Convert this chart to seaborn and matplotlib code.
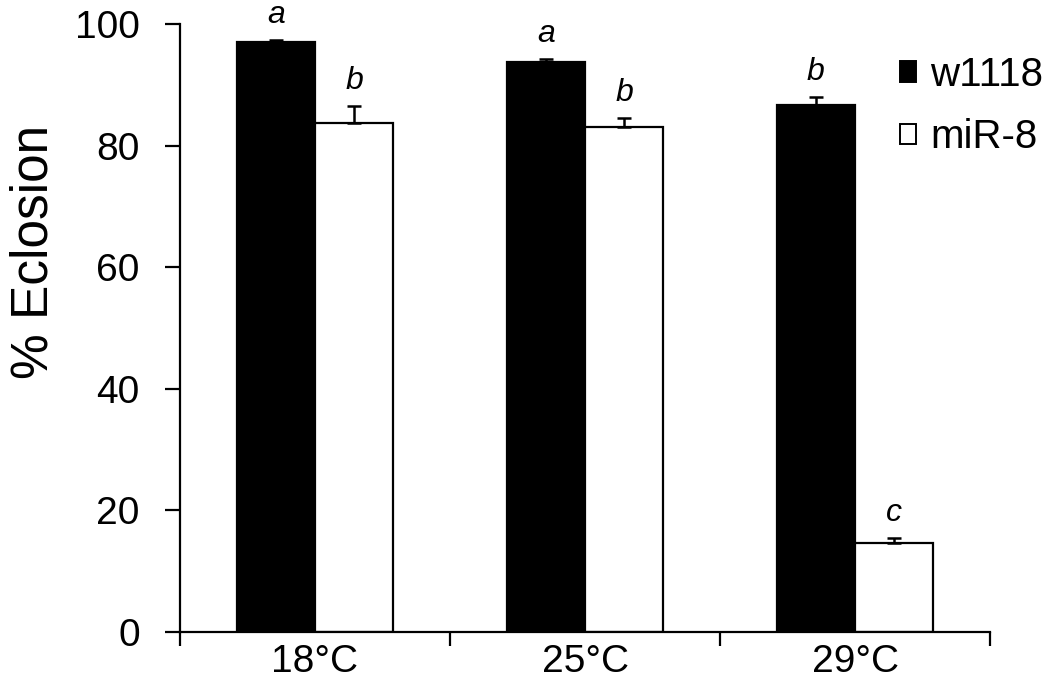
import numpy as np
import pandas as pd
import matplotlib
matplotlib.use("Agg")
import matplotlib.pyplot as plt
from matplotlib.patches import Patch
import seaborn as sns

# data
temps = ["18°C", "25°C", "29°C"]
genotypes = ["w1118", "miR-8"]
w1118_vals = [97.0, 93.8, 86.7]
w1118_err = [0.3, 0.5, 1.3]
mir8_vals = [83.7, 83.1, 14.6]
mir8_err = [2.8, 1.4, 0.9]
w1118_sig = ["a", "a", "b"]
mir8_sig = ["b", "b", "c"]

df = pd.DataFrame({
    "temp": temps * 2,
    "genotype": [genotypes[0]] * 3 + [genotypes[1]] * 3,
    "eclosion": w1118_vals + mir8_vals,
})
errs = w1118_err + mir8_err
sigs = w1118_sig + mir8_sig

sns.set_style("white")
plt.rcParams["font.family"] = ["Liberation Sans", "DejaVu Sans"]
plt.rcParams.update({"text.color": "black", "axes.labelcolor": "black",
                     "xtick.color": "black", "ytick.color": "black"})

fig = plt.figure(figsize=(10.5, 6.81), dpi=100)
ax = fig.add_axes([180/1050, 49/681, 810/1050, 608/681])

sns.barplot(data=df, x="temp", y="eclosion", hue="genotype",
            palette=["black", "white"], width=0.58, errorbar=None,
            edgecolor="black", linewidth=1.6, legend=False, ax=ax)

# one-sided error bars and significance letters from the bar patches
bars = [p for p in ax.patches]
for p, e, s in zip(bars, errs, sigs):
    xc = p.get_x() + p.get_width() / 2
    h = p.get_height()
    ax.errorbar(xc, h, yerr=[[0], [e]], fmt="none", ecolor="black",
                elinewidth=1.8, capsize=5, capthick=1.8, zorder=3)
    ax.text(xc, h + e + 2.8, s, ha="center", va="baseline",
            fontsize=23, fontstyle="italic", clip_on=False)

ax.set_xlim(-0.5, 2.5)
ax.set_ylim(0, 100)
ax.set_yticks([0, 20, 40, 60, 80, 100])
ax.set_xticks([0, 1, 2])
ax.set_xticklabels(temps)
ax.set_xticks([-0.5, 0.5, 1.5, 2.5], minor=True)
ax.tick_params(axis="x", which="major", length=0, pad=9, labelsize=28)
ax.tick_params(axis="x", which="minor", length=10, width=1.6, direction="out",
               bottom=True)
ax.tick_params(axis="y", length=11, width=1.6, direction="out", left=True,
               pad=18, labelsize=28)
ax.set_xlabel("")
ax.set_ylabel("% Eclosion", fontsize=37)
ax.yaxis.set_label_coords(-0.15, 0.625)

sns.despine(ax=ax)
for side in ["left", "bottom"]:
    ax.spines[side].set_linewidth(1.6)
    ax.spines[side].set_color("black")

handles = [Patch(facecolor="black", edgecolor="black", linewidth=1.4),
           Patch(facecolor="white", edgecolor="black", linewidth=1.4)]
fig.legend(handles, genotypes, loc="upper left",
           bbox_to_anchor=(900/1050, 1 - 56/681), frameon=False,
           fontsize=29, handlelength=0.4, handleheight=0.4,
           handletextpad=0.35, labelspacing=0.6, borderpad=0,
           borderaxespad=0)

fig.savefig("out.png", dpi=100)
